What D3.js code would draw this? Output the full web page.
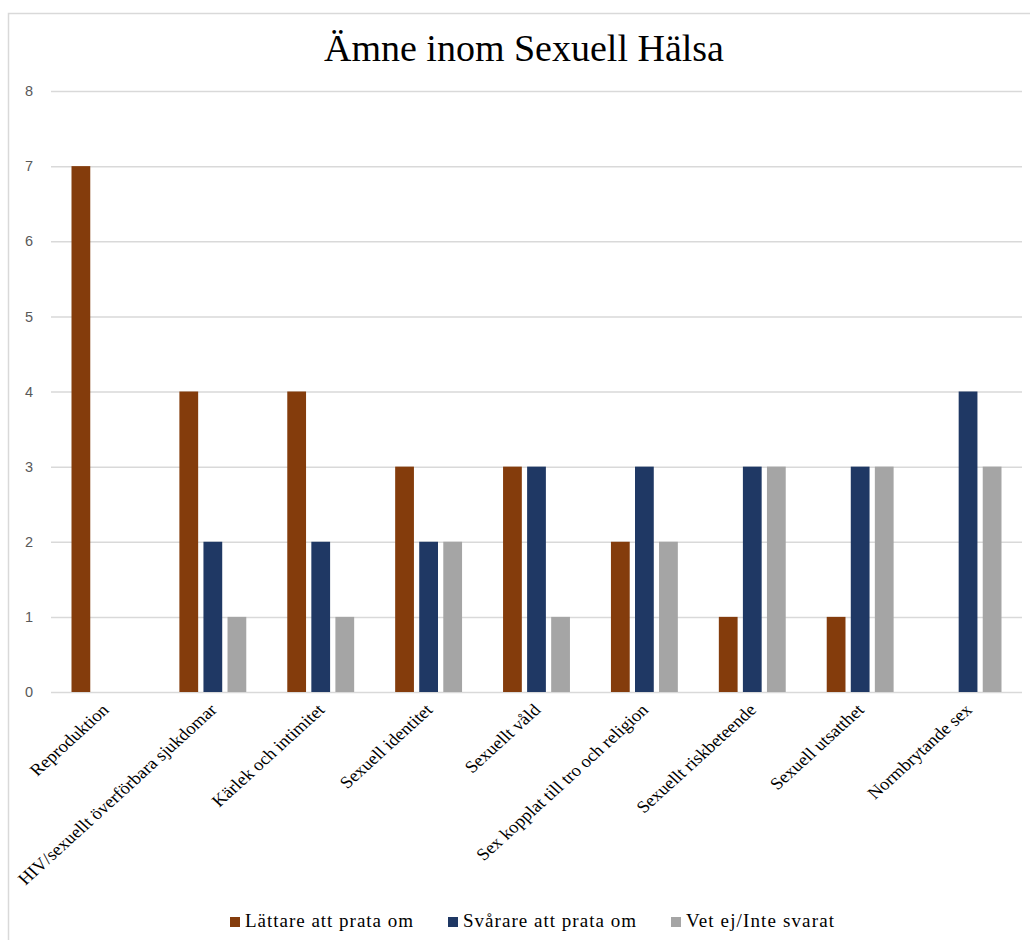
<!DOCTYPE html>
<html>
<head>
<meta charset="utf-8">
<script src="https://cdn.jsdelivr.net/npm/d3@7"></script>
<style>
  body { margin: 0; background: #fff; }
  svg { display: block; }
</style>
</head>
<body>
<svg id="chart" width="1030" height="940"></svg>
<script>
// kategorier och serier
const categories = [
    "Reproduktion",
    "HIV/sexuellt överförbara sjukdomar",
    "Kärlek och intimitet",
    "Sexuell identitet",
    "Sexuellt våld",
    "Sex kopplat till tro och religion",
    "Sexuellt riskbeteende",
    "Sexuell utsatthet",
    "Normbrytande sex"
];
const seriesNames = ["Lättare att prata om", "Svårare att prata om", "Vet ej/Inte svarat"];
const lattare = [7, 4, 4, 3, 3, 2, 1, 1, 0];
const svarare = [0, 2, 2, 2, 3, 3, 3, 3, 4];
const vetEj   = [0, 1, 1, 2, 1, 2, 3, 3, 3];
const yTicks = [0, 1, 2, 3, 4, 5, 6, 7, 8];
const colors = ["#843C0C", "#1F3864", "#A5A5A5"];

const seriesValues = [lattare, svarare, vetEj];
const serif = "'Liberation Serif', 'Times New Roman', serif";

const svg = d3.select("#chart");

// yttre ram
svg.append("rect")
    .attr("x", 8.5).attr("y", 13.5)
    .attr("width", 1040).attr("height", 950)
    .attr("fill", "none")
    .attr("stroke", "#D9D9D9")
    .attr("stroke-width", 1.5);

const area = { left: 51, right: 1022, top: 91, bottom: 692 };

// titel
svg.append("text")
    .attr("x", 524).attr("y", 61)
    .attr("text-anchor", "middle")
    .attr("font-family", serif)
    .attr("font-size", 38)
    .attr("fill", "#000")
    .text("Ämne inom Sexuell Hälsa");

const scaleY = d3.scaleLinear()
    .domain([0, 8])
    .range([area.bottom, area.top]);

const scaleX = d3.scaleBand()
    .domain(categories)
    .range([area.left, area.right])
    .paddingInner(0.38)
    .paddingOuter(0.19);

const scaleInner = d3.scaleBand()
    .domain(seriesNames)
    .range([0, scaleX.bandwidth()])
    .paddingInner(0.22);

// rutnät och y-axel
const axisY = d3.axisLeft(scaleY)
    .tickValues(yTicks)
    .tickSize(-(area.right - area.left))
    .tickPadding(18)
    .tickFormat(d3.format("d"));

const gY = svg.append("g")
    .attr("transform", `translate(${area.left}, 0)`)
    .call(axisY);
gY.select(".domain").remove();
gY.selectAll(".tick line")
    .attr("stroke", "#D9D9D9")
    .attr("stroke-width", 1.5);
gY.selectAll(".tick text")
    .attr("font-family", "'Liberation Sans', Arial, sans-serif")
    .attr("font-size", 14.5)
    .attr("fill", "#595959");

// staplar
const rows = [];
categories.forEach((c, i) => {
    seriesNames.forEach((s, j) => {
        rows.push({ cat: c, series: s, value: seriesValues[j][i], color: colors[j] });
    });
});

svg.selectAll(".bar")
    .data(rows.filter(d => d.value > 0))
    .enter()
    .append("rect")
    .attr("class", "bar")
    .attr("x", d => scaleX(d.cat) + scaleInner(d.series))
    .attr("y", d => scaleY(d.value))
    .attr("width", scaleInner.bandwidth())
    .attr("height", d => scaleY(0) - scaleY(d.value))
    .style("fill", d => d.color);

// x-axel, lutande etiketter (lite utdragna i bredd som i originalet)
const axisX = d3.axisBottom(scaleX).tickSize(0).tickPadding(0);
const gX = svg.append("g")
    .attr("transform", `translate(0, ${area.bottom})`)
    .call(axisX);
gX.select(".domain").remove();
gX.selectAll(".tick text")
    .attr("text-anchor", "end")
    .attr("font-family", serif)
    .attr("font-size", 17)
    .attr("fill", "#000")
    .attr("y", 0)
    .attr("dy", 0)
    .attr("transform", "translate(5, 19) scale(1.1, 1) rotate(-45)");

// förklaring
const legendX = [230, 448, 671];
const legendW = [168, 173, 148];
const legend = svg.append("g");
seriesNames.forEach((s, j) => {
    legend.append("rect")
        .attr("x", legendX[j]).attr("y", 917)
        .attr("width", 10).attr("height", 10)
        .style("fill", colors[j]);
    legend.append("text")
        .attr("x", legendX[j] + 15).attr("y", 927)
        .attr("font-family", serif)
        .attr("font-size", 19)
        .attr("fill", "#000")
        .attr("textLength", legendW[j])
        .attr("lengthAdjust", "spacing")
        .text(s);
});
</script>
</body>
</html>
